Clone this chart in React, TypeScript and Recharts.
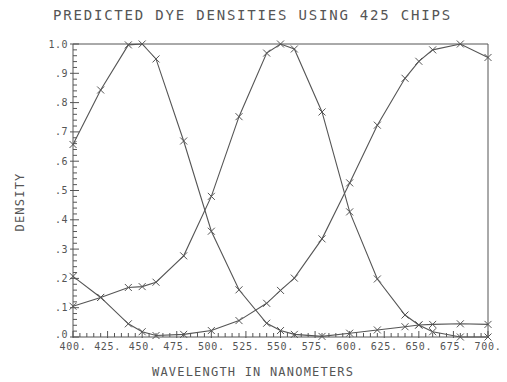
import { LineChart, Line, XAxis, YAxis, ReferenceLine } from "recharts";

// wavelength (nm) of each computed point
const wavelengths = [400, 420, 440, 450, 460, 480, 500, 520, 540, 550, 560, 580, 600, 620, 640, 650, 660, 680, 700];

// predicted densities
const yellowDye = [0.657, 0.843, 0.997, 1.0, 0.949, 0.669, 0.361, 0.161, 0.047, 0.022, 0.009, 0.002, 0.013, 0.024, 0.035, 0.041, 0.043, 0.045, 0.043];
const magentaDye = [0.105, 0.135, 0.169, 0.172, 0.187, 0.277, 0.48, 0.752, 0.969, 1.0, 0.983, 0.768, 0.427, 0.198, 0.075, 0.041, 0.018, 0.0, 0.0];
const cyanDye = [0.207, 0.135, 0.045, 0.018, 0.005, 0.009, 0.022, 0.056, 0.115, 0.159, 0.201, 0.335, 0.526, 0.723, 0.883, 0.941, 0.98, 1.0, 0.954];

const xMajorTicks = [400, 425, 450, 475, 500, 525, 550, 575, 600, 625, 650, 675, 700];
const yMajorTicks = [0, 0.1, 0.2, 0.3, 0.4, 0.5, 0.6, 0.7, 0.8, 0.9, 1.0];

const title = "PREDICTED DYE DENSITIES USING 425 CHIPS";
const xTitle = "WAVELENGTH IN NANOMETERS";
const yTitle = "DENSITY";

// minor ticks every 5 nm and every .02
const xTicks = Array.from({ length: 61 }, (_, i) => 400 + i * 5);
const yTicks = Array.from({ length: 51 }, (_, i) => i / 50);

const data = wavelengths.map((w, i) => ({
  w,
  yellow: yellowDye[i],
  magenta: magentaDye[i],
  cyan: cyanDye[i],
}));

const INK = "#555";
const FONT = "'DejaVu Sans Mono', monospace";

function XMark(props: any) {
  const { cx, cy } = props;
  if (cx == null || cy == null) return <g />;
  const s = 3.5;
  return (
    <path
      d={`M${cx - s},${cy - s}L${cx + s},${cy + s}M${cx + s},${cy - s}L${cx - s},${cy + s}`}
      stroke={INK}
      strokeWidth={1}
      fill="none"
    />
  );
}

function XTick(props: any) {
  const { x, y, payload } = props;
  const v = payload.value;
  const major = xMajorTicks.includes(v);
  return (
    <g>
      <line x1={x} x2={x} y1={y + (major ? 1 : 0)} y2={y - (major ? 6 : 4)} stroke={INK} strokeWidth={1} />
      {major && (
        <text x={x} y={y + 13} textAnchor="middle" fontSize={10} letterSpacing={0.7} fill={INK} fontFamily={FONT}>
          {v + "."}
        </text>
      )}
    </g>
  );
}

function YTick(props: any) {
  const { x, y, payload } = props;
  const v = payload.value;
  const major = yMajorTicks.some((t) => Math.abs(t - v) < 1e-6);
  const label = v >= 0.999 ? "1.0" : "." + Math.round(v * 10);
  // the zero label sits a little higher so it clears "400."
  const dy = v < 1e-6 ? 1 : 3.5;
  return (
    <g>
      <line x1={major ? x - 3 : x} x2={x + (major ? 6 : 4)} y1={y} y2={y} stroke={INK} strokeWidth={1} />
      {major && (
        <text x={x - 5} y={y + dy} textAnchor="end" fontSize={10} letterSpacing={0.5} fill={INK} fontFamily={FONT}>
          {label}
        </text>
      )}
    </g>
  );
}

export default function App() {
  return (
    <div style={{ position: "absolute", left: 0, top: 0, width: 507, height: 382, background: "#fff", fontFamily: FONT, color: INK }}>
      <div style={{ position: "absolute", left: 53, top: 7, fontSize: 14, letterSpacing: 1.8, lineHeight: "16px", whiteSpace: "nowrap" }}>
        {title}
      </div>
      <div style={{ position: "absolute", left: 152, top: 365, fontSize: 12, letterSpacing: 1.2, lineHeight: "14px", whiteSpace: "nowrap" }}>
        {xTitle}
      </div>
      <div
        style={{
          position: "absolute",
          left: 20,
          top: 202,
          fontSize: 12,
          letterSpacing: 1.2,
          lineHeight: "14px",
          whiteSpace: "nowrap",
          transform: "translate(-50%, -50%) rotate(-90deg)",
        }}
      >
        {yTitle}
      </div>
      <LineChart width={507} height={382} data={data} margin={{ top: 44, right: 19, bottom: 15, left: 0 }}>
        <XAxis
          dataKey="w"
          type="number"
          domain={[400, 700]}
          ticks={xTicks}
          interval={0}
          tickSize={0}
          tickMargin={0}
          tickLine={false}
          tick={XTick}
          height={30}
          axisLine={{ stroke: INK }}
        />
        <YAxis
          type="number"
          domain={[0, 1]}
          ticks={yTicks}
          interval={0}
          tickSize={0}
          tickMargin={0}
          tickLine={false}
          tick={YTick}
          width={73}
          axisLine={{ stroke: INK }}
        />
        <ReferenceLine y={1} stroke={INK} strokeWidth={1} />
        <ReferenceLine x={700} stroke={INK} strokeWidth={1} />
        <Line type="linear" dataKey="yellow" stroke={INK} strokeWidth={1.1} dot={XMark} isAnimationActive={false} />
        <Line type="linear" dataKey="magenta" stroke={INK} strokeWidth={1.1} dot={XMark} isAnimationActive={false} />
        <Line type="linear" dataKey="cyan" stroke={INK} strokeWidth={1.1} dot={XMark} isAnimationActive={false} />
      </LineChart>
    </div>
  );
}
